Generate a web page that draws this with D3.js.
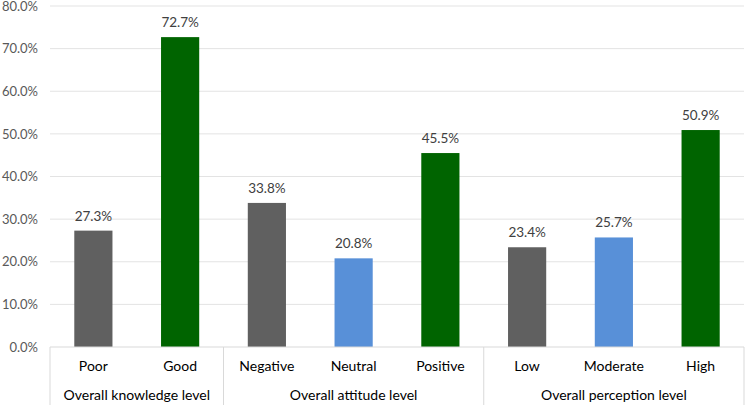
<!DOCTYPE html>
<html>
<head>
<meta charset="utf-8">
<script src="https://cdn.jsdelivr.net/npm/d3@7"></script>
<style>
  body { margin: 0; background: #fff; }
  text { font-family: Lato, "Open Sans", sans-serif; }
</style>
</head>
<body>
<div class="canvas"></div>
<script>
// chart data
const groups = ['Overall knowledge level', 'Overall attitude level', 'Overall perception level'];
const categories = ['Poor', 'Good', 'Negative', 'Neutral', 'Positive', 'Low', 'Moderate', 'High'];
const groupOf = [0, 0, 1, 1, 1, 2, 2, 2];
const values = [27.3, 72.7, 33.8, 20.8, 45.5, 23.4, 25.7, 50.9];
const levelType = ['low', 'high', 'low', 'mid', 'high', 'low', 'mid', 'high'];
const yTicks = [0, 10, 20, 30, 40, 50, 60, 70, 80];

const colors = { low: '#606060', mid: '#5890d8', high: '#006400' };

const dims = { width: 750, height: 405 };
const m = { top: 6, right: 6, bottom: 58, left: 50 };

const svg = d3.select('.canvas')
    .append('svg')
    .attr('width', dims.width)
    .attr('height', dims.height);

const x = d3.scaleBand()
    .domain(categories)
    .range([m.left, dims.width - m.right])
    .paddingInner(0.56)
    .paddingOuter(0.28);

const y = d3.scaleLinear()
    .domain([0, 80])
    .range([dims.height - m.bottom, m.top]);

// gridlines
svg.append('g')
    .selectAll('line')
    .data(yTicks.slice(1))
    .enter()
    .append('line')
    .attr('x1', m.left)
    .attr('x2', dims.width - m.right)
    .attr('y1', d => y(d))
    .attr('y2', d => y(d))
    .attr('stroke', '#e3e3e3')
    .attr('stroke-width', 1);

// y axis labels
const yAxis = d3.axisLeft(y)
    .tickValues(yTicks)
    .tickFormat(d => d.toFixed(1) + '%')
    .tickSize(0)
    .tickPadding(12);

svg.append('g')
    .attr('transform', `translate(${m.left}, 0)`)
    .call(yAxis)
    .call(g => g.select('.domain').remove())
    .selectAll('text')
    .attr('fill', '#595959')
    .style('font-size', '13px');

// bars
svg.append('g')
    .selectAll('rect')
    .data(categories)
    .enter()
    .append('rect')
    .attr('x', d => x(d))
    .attr('width', x.bandwidth())
    .attr('y', (d, i) => y(values[i]))
    .attr('height', (d, i) => y(0) - y(values[i]))
    .attr('fill', (d, i) => colors[levelType[i]]);

// value labels
svg.append('g')
    .selectAll('text')
    .data(categories)
    .enter()
    .append('text')
    .attr('x', d => x(d) + x.bandwidth() / 2)
    .attr('y', (d, i) => y(values[i]) - 10)
    .attr('text-anchor', 'middle')
    .attr('fill', '#404040')
    .style('font-size', '13.5px')
    .text((d, i) => values[i].toFixed(1) + '%');

// x axis line
const base = y(0);
svg.append('line')
    .attr('x1', m.left)
    .attr('x2', dims.width - m.right)
    .attr('y1', base)
    .attr('y2', base)
    .attr('stroke', '#d9d9d9');

// group separators (midway between the bars of neighbouring groups)
const step = x.step();
const groupEdges = [];
groups.forEach((g, gi) => {
    const cats = categories.filter((c, i) => groupOf[i] === gi);
    const last = cats[cats.length - 1];
    const x0 = gi === 0 ? m.left : x(cats[0]) - x.paddingInner() * step / 2;
    const x1 = gi === groups.length - 1 ? dims.width - m.right : x(last) + x.bandwidth() + x.paddingInner() * step / 2;
    groupEdges.push({ name: g, x0, x1 });
});

const edges = [groupEdges[0].x0].concat(groupEdges.map(d => d.x1));
svg.append('g')
    .selectAll('line')
    .data(edges)
    .enter()
    .append('line')
    .attr('x1', d => d)
    .attr('x2', d => d)
    .attr('y1', base)
    .attr('y2', dims.height)
    .attr('stroke', '#d9d9d9');

// category labels
svg.append('g')
    .selectAll('text')
    .data(categories)
    .enter()
    .append('text')
    .attr('x', d => x(d) + x.bandwidth() / 2)
    .attr('y', base + 24)
    .attr('text-anchor', 'middle')
    .attr('fill', '#000')
    .style('font-size', '14px')
    .text(d => d);

// group labels
svg.append('g')
    .selectAll('text')
    .data(groupEdges)
    .enter()
    .append('text')
    .attr('x', d => (d.x0 + d.x1) / 2)
    .attr('y', base + 53)
    .attr('text-anchor', 'middle')
    .attr('fill', '#000')
    .style('font-size', '14px')
    .text(d => d.name);
</script>
</body>
</html>
